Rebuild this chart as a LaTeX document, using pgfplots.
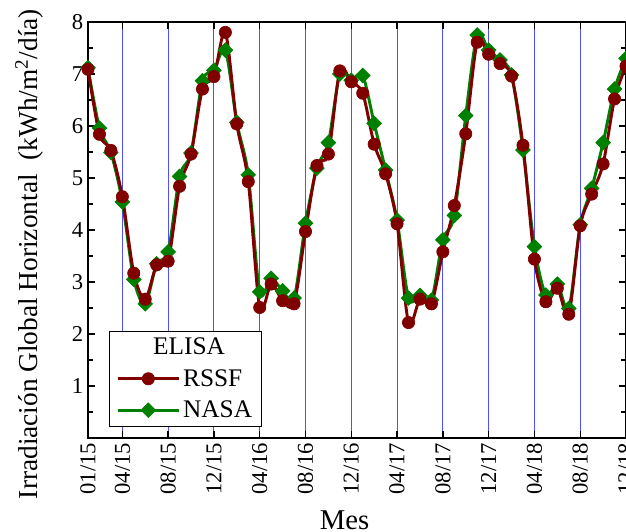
\documentclass[border=0pt]{standalone}
\usepackage{fontspec}
\setmainfont{Liberation Serif}
\usepackage{pgfplots}
\pgfplotsset{compat=1.18}
\definecolor{rssf}{RGB}{128,0,0}
\definecolor{nasa}{RGB}{0,128,0}
\definecolor{gridblue}{RGB}{80,80,255}

\pgfplotstableread{
i rssf nasa
0 7.09 7.12
1 5.84 5.96
2 5.53 5.49
3 4.64 4.54
4 3.17 3.05
5 2.67 2.58
6 3.33 3.35
7 3.40 3.58
8 4.84 5.03
9 5.46 5.48
10 6.71 6.87
11 6.95 7.07
12 7.80 7.46
13 6.04 6.07
14 4.93 5.06
15 2.51 2.81
16 2.96 3.07
17 2.64 2.83
18 2.58 2.69
19 3.97 4.13
20 5.24 5.19
21 5.46 5.68
22 7.06 7.00
23 6.85 6.88
24 6.63 6.97
25 5.65 6.05
26 5.08 5.15
27 4.12 4.19
28 2.22 2.69
29 2.67 2.74
30 2.58 2.65
31 3.58 3.81
32 4.47 4.28
33 5.85 6.20
34 7.61 7.75
35 7.38 7.46
36 7.20 7.27
37 6.96 6.98
38 5.63 5.54
39 3.44 3.68
40 2.62 2.75
41 2.88 2.96
42 2.38 2.49
43 4.08 4.10
44 4.69 4.80
45 5.27 5.68
46 6.52 6.71
47 7.15 7.30
}\elisa

\pgfplotsset{
  rssfstyle/.style={color=rssf, line width=2.2pt, smooth, mark=*, mark size=4.6pt, mark options={solid, fill=rssf, line width=0.5pt}},
  nasastyle/.style={color=nasa, line width=2.2pt, smooth, mark=square*, mark size=3.9pt, mark options={solid, fill=nasa, rotate=45, line width=0.5pt}},
}

\begin{document}
\begin{tikzpicture}
\begin{axis}[
  name=ax,
  scale only axis,
  width=403.5pt, height=312pt,
  xmin=0, xmax=47, ymin=0, ymax=8,
  xtick={0,3,7,11,15,19,23,27,31,35,39,43,47},
  xticklabels={01/15,04/15,08/15,12/15,04/16,08/16,12/16,04/17,08/17,12/17,04/18,08/18,12/18},
  x tick label style={rotate=90, anchor=east, font=\fontsize{17}{17}\selectfont},
  ytick={0,1,...,8},
  yticklabels={,1,2,3,4,5,6,7,8},
  y tick label style={font=\fontsize{17}{17}\selectfont},
  minor y tick num=1,
  tick align=inside,
  major tick length=5pt, minor tick length=3.5pt,
  every tick/.style={black, line width=1pt},
  xmajorgrids,
  grid style={gridblue, line width=0.8pt},
  axis line style={line width=1.3pt},
  xlabel={Mes},
  xlabel style={at={(axis description cs:0.477,-0.221)}, anchor=base, font=\fontsize{21.5}{22}\selectfont},
  ylabel={Irradiación Global Horizontal\ \ (kWh/m\textsuperscript{2}/día)},
  ylabel style={at={(axis description cs:-0.093,0.442)}, anchor=base, rotate=0, font=\fontsize{20.5}{21}\selectfont},
  legend style={at={(axis description cs:0.039,0.027)}, anchor=south west,
    draw=black, line width=0.8pt, font=\fontsize{19}{19}\selectfont,
    row sep=5.5pt, inner xsep=5pt, inner ysep=3pt},
  legend cell align=left,
  legend image code/.code={\draw[mark repeat=2,mark phase=2,#1] plot coordinates {(0pt,0pt)(23pt,0pt)(46pt,0pt)};},
]
\addlegendimage{empty legend}
\addlegendentry{\hspace*{-22.5pt}ELISA}
\addlegendimage{rssfstyle}
\addlegendentry{RSSF}
\addlegendimage{nasastyle}
\addlegendentry{NASA}

\addplot[nasastyle, forget plot] table[x=i, y=nasa] {\elisa};
\addplot[rssfstyle, forget plot] table[x=i, y=rssf] {\elisa};
\end{axis}
\pgfresetboundingbox
\path[use as bounding box] ([xshift=-66pt,yshift=-69.75pt]ax.south west) rectangle ([yshift=16.5pt]ax.north east);
\end{tikzpicture}
\end{document}
